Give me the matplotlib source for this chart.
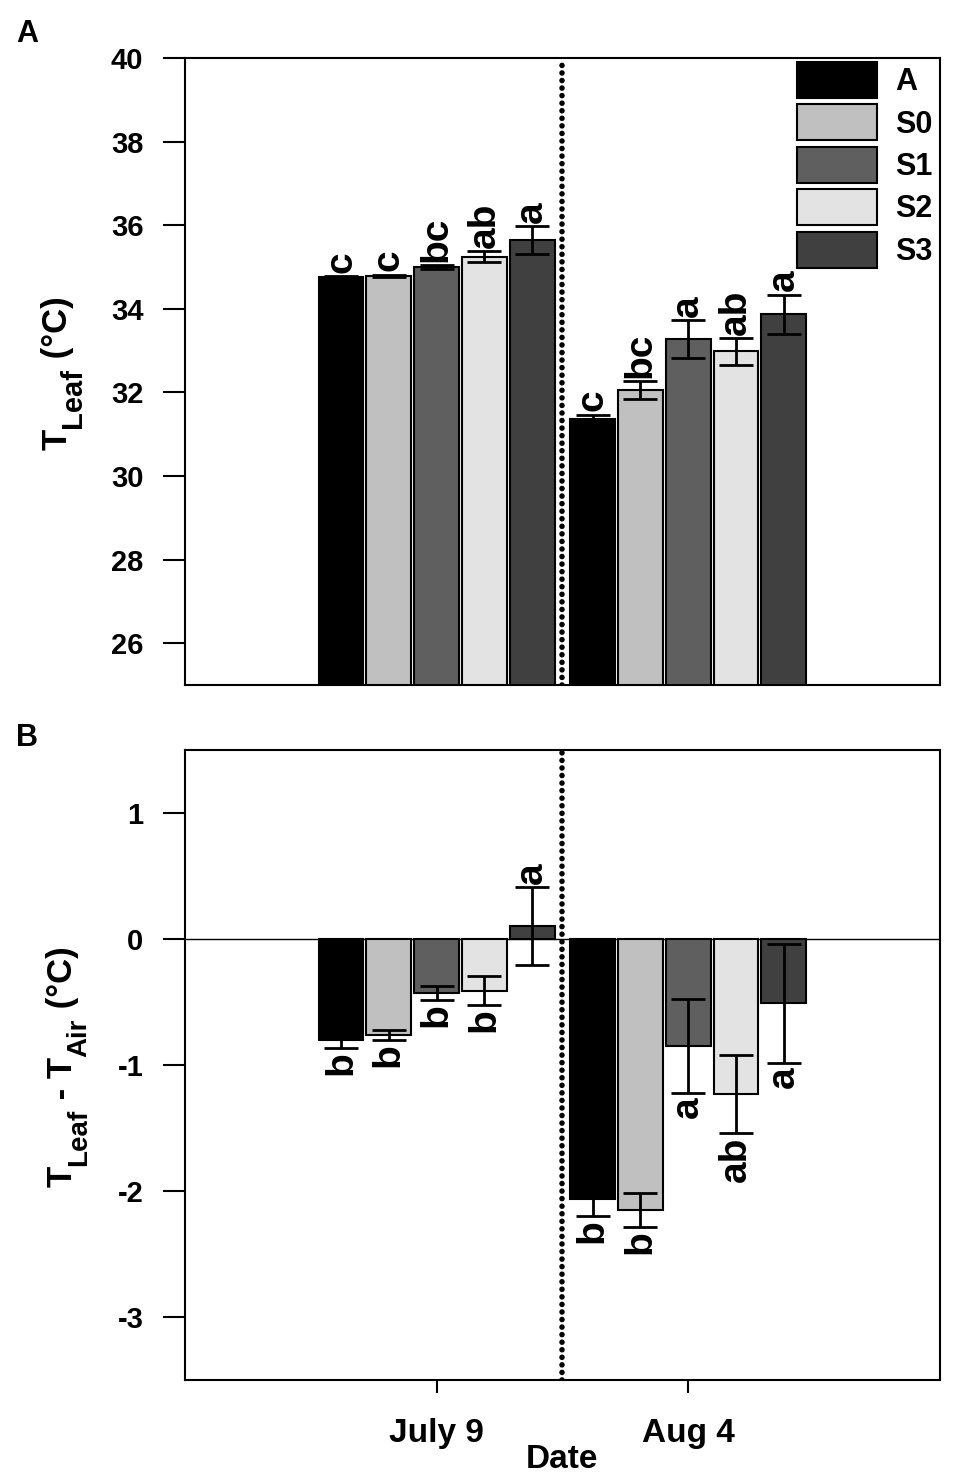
import matplotlib
matplotlib.use("Agg")
import matplotlib.pyplot as plt
import numpy as np

plt.rcParams['font.family'] = ['Liberation Sans', 'DejaVu Sans']
plt.rcParams['font.weight'] = 'bold'
plt.rcParams['axes.unicode_minus'] = False

# Datos
fechas = ["July 9", "Aug 4"]
tratamientos = ["A", "S0", "S1", "S2", "S3"]
colores = ["#000000", "#c0c0c0", "#5f5f5f", "#e3e3e3", "#404040"]

# Panel A: T leaf (media, error) por tratamiento [July 9, Aug 4]
tleaf = {
    "A": [34.76, 31.36],
    "S0": [34.79, 32.05],
    "S1": [35.00, 33.27],
    "S2": [35.25, 32.98],
    "S3": [35.65, 33.87],
}
tleaf_err = {
    "A": [0.02, 0.10],
    "S0": [0.02, 0.22],
    "S1": [0.04, 0.46],
    "S2": [0.12, 0.32],
    "S3": [0.33, 0.47],
}
tleaf_letras = {
    "A": ["c", "c"],
    "S0": ["c", "bc"],
    "S1": ["bc", "a"],
    "S2": ["ab", "ab"],
    "S3": ["a", "a"],
}

# Panel B: T leaf - T air
dif = {
    "A": [-0.80, -2.06],
    "S0": [-0.76, -2.15],
    "S1": [-0.43, -0.85],
    "S2": [-0.41, -1.23],
    "S3": [0.10, -0.51],
}
dif_err = {
    "A": [0.065, 0.14],
    "S0": [0.04, 0.135],
    "S1": [0.055, 0.375],
    "S2": [0.115, 0.31],
    "S3": [0.31, 0.47],
}
dif_letras = {
    "A": ["b", "b"],
    "S0": ["b", "b"],
    "S1": ["b", "a"],
    "S2": ["b", "ab"],
    "S3": ["a", "a"],
}

x = np.array([1, 2])
ancho = 0.178
paso = 0.19

W, H = 954, 1479
fig = plt.figure(figsize=(W / 100, H / 100), dpi=100)
axA = fig.add_axes([0.194, 0.5369, 0.791, 0.4239])
axB = fig.add_axes([0.194, 0.0669, 0.791, 0.4260])
renderer = fig.canvas.get_renderer()


def dibujar(ax, medias, errores, letras):
    for i, t in enumerate(tratamientos):
        pos = x + (i - 2) * paso
        ax.bar(pos, medias[t], width=ancho, color=colores[i], edgecolor="black",
               linewidth=1.5, label=t, zorder=2)
        ax.errorbar(pos, medias[t], yerr=errores[t], fmt="none", ecolor="black",
                    elinewidth=2, capsize=12, capthick=2, zorder=3)
        for p, m, e, l in zip(pos, medias[t], errores[t], letras[t]):
            if m >= 0 or ax is axA:
                ax.annotate(l, (p, m + e), xytext=(0, 2.5), textcoords="offset points",
                            rotation=90, ha="center", va="bottom", fontsize=28,
                            fontweight="bold")
            else:
                ax.annotate(l, (p, m - e), xytext=(0, -2.5), textcoords="offset points",
                            rotation=90, ha="center", va="top", fontsize=28,
                            fontweight="bold")
    ax.axvline(1.5, color="black", linestyle=(0, (0.01, 1.35)), linewidth=4,
               dash_capstyle="round", zorder=4)
    ax.set_xlim(0, 3)
    for s in ax.spines.values():
        s.set_linewidth(1.5)
    ax.tick_params(axis="y", direction="out", length=16, width=1.5, pad=14, labelsize=21)


def etiqueta_y(partes, x_base, y_centro):
    # partes: (texto, tamaño, desplazamiento de la linea base en px)
    largos = []
    for s, tam, _ in partes:
        t = fig.text(0, 0, s, fontsize=tam, fontweight="bold")
        largos.append(t.get_window_extent(renderer).width)
        t.remove()
    y = y_centro + sum(largos) / 2
    for (s, tam, d), l in zip(partes, largos):
        fig.text((x_base + d) / W, 1 - y / H, s, fontsize=tam, fontweight="bold",
                 rotation=90, rotation_mode="anchor", ha="left", va="baseline")
        y -= l


dibujar(axA, tleaf, tleaf_err, tleaf_letras)
axA.set_ylim(25, 40)
axA.set_yticks(np.arange(26, 41, 2))
axA.set_xticks([])
axA.legend(loc="upper left", bbox_to_anchor=(0.8106, 0.9936), frameon=False, fontsize=22,
           handlelength=2.62, handleheight=1.435, labelspacing=0.21, handletextpad=0.59,
           borderpad=0, borderaxespad=0)

dibujar(axB, dif, dif_err, dif_letras)
axB.axhline(0, color="black", linewidth=1, zorder=1)
axB.set_ylim(-3.5, 1.5)
axB.set_yticks([-3, -2, -1, 0, 1])
axB.set_xticks(x)
axB.set_xticklabels(fechas)
axB.tick_params(axis="x", direction="out", length=9, width=1.5, pad=18, labelsize=24)
axB.set_xlabel("Date", fontsize=24, fontweight="bold", labelpad=-3)

etiqueta_y([("T", 25, 0), ("Leaf", 21, 14), (" (°C)", 25, 0)], 67, 373)
etiqueta_y([("T", 25, 0), ("Leaf", 20, 14), (" - T", 25, 0), ("Air", 20, 14),
            (" (°C)", 25, 0)], 72, 1067)

fig.text(0.0168, 0.9767, "A", fontsize=22, fontweight="bold", va="center")
fig.text(0.0168, 0.5010, "B", fontsize=22, fontweight="bold", va="center")

plt.savefig("out.png", dpi=100)
